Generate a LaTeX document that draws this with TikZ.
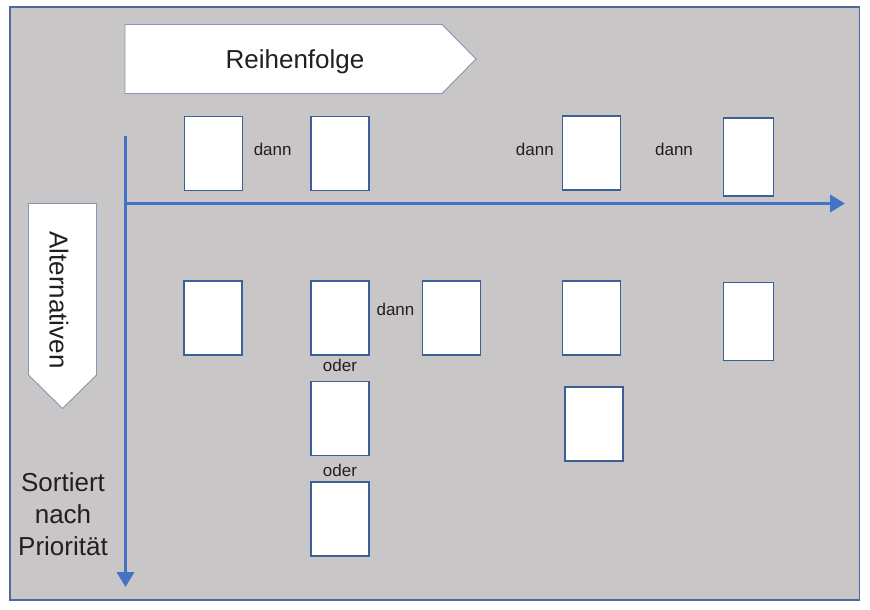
\documentclass[tikz,border=0pt]{standalone}
\usepackage{fontspec}
\setmainfont{Liberation Sans}
\usetikzlibrary{arrows.meta}
\definecolor{bggray}{RGB}{200,198,198}
\definecolor{framecol}{RGB}{74,106,158}
\definecolor{boxcol}{RGB}{59,95,150}
\definecolor{axiscol}{RGB}{68,114,196}
\definecolor{shapecol}{RGB}{132,151,180}
\definecolor{txtcol}{RGB}{35,31,32}
\tikzset{
  card/.style={draw=boxcol, fill=white, line width=1.4pt, minimum width=58pt, minimum height=74pt, inner sep=0pt},
  narrowcard/.style={card, minimum width=49.6pt, minimum height=78pt},
  small/.style={text=txtcol, font=\fontsize{17}{20}\selectfont, inner sep=0pt, anchor=base},
  big/.style={text=txtcol, font=\fontsize{26}{32}\selectfont, inner sep=0pt},
  axis/.style={draw=axiscol, line width=3.8pt, -{Triangle[length=15pt,width=17pt]}},
  banner/.style={draw=shapecol, fill=white, line width=0.9pt}
}
\begin{document}
\begin{tikzpicture}[x=1pt,y=-1pt]
\useasboundingbox (0,0) rectangle (870,610);
\fill[white] (0,0) rectangle (870,610);
\draw[fill=bggray, draw=framecol, line width=1.8pt] (10,7) rectangle (859.5,600);

% banners
\draw[banner] (125,24.5) -- (442,24.5) -- (476,59) -- (442,93.5) -- (125,93.5) -- cycle;
\node[big, anchor=base] (reihe) at (295,68.3) {Reihenfolge};
\draw[banner] (28.5,203.5) -- (96.5,203.5) -- (96.5,375) -- (62.5,408.5) -- (28.5,375) -- cycle;
\node[big, rotate=-90] (alt) at (59,300) {Alternativen};

% axes
\coordinate (vtop) at (125.5,136);
\coordinate (origin) at (125.5,203.5);
\coordinate (hend) at (845,203.5);
\coordinate (vend) at (125.5,587);
\draw[axis] (origin) -- (hend);
\draw[axis] (vtop) -- (vend);

% side text
\node[big, anchor=base] (s1) at (63,491.7) {Sortiert};
\node[big, anchor=base] (s2) at (63,523.3) {nach};
\node[big, anchor=base] (s3) at (63,555) {Priorität};

% top row
\node[card] (a1) at (213.3,153.2) {};
\node[card] (a2) at (340,153.2) {};
\node[card] (a3) at (591.3,153) {};
\node[narrowcard] (a4) at (748.5,156.9) {};
\node[small] (t1) at (272.7,155) {dann};
\node[small] (t2) at (534.8,155.7) {dann};
\node[small] (t3) at (674,155.7) {dann};

% second row
\node[card] (b1) at (213,318) {};
\node[card] (b2) at (340,318) {};
\node[card] (b3) at (451.5,318) {};
\node[card] (b4) at (591.5,318) {};
\node[narrowcard] (b5) at (748.5,321.7) {};
\node[small] (t4) at (395.5,315.7) {dann};
\node[small] (o1) at (340,371.7) {oder};

\node[card] (c1) at (340,418.3) {};
\node[card] (c2) at (594,424) {};
\node[small] (o2) at (340,476.7) {oder};
\node[card] (d1) at (340,518.8) {};
\end{tikzpicture}
\end{document}
